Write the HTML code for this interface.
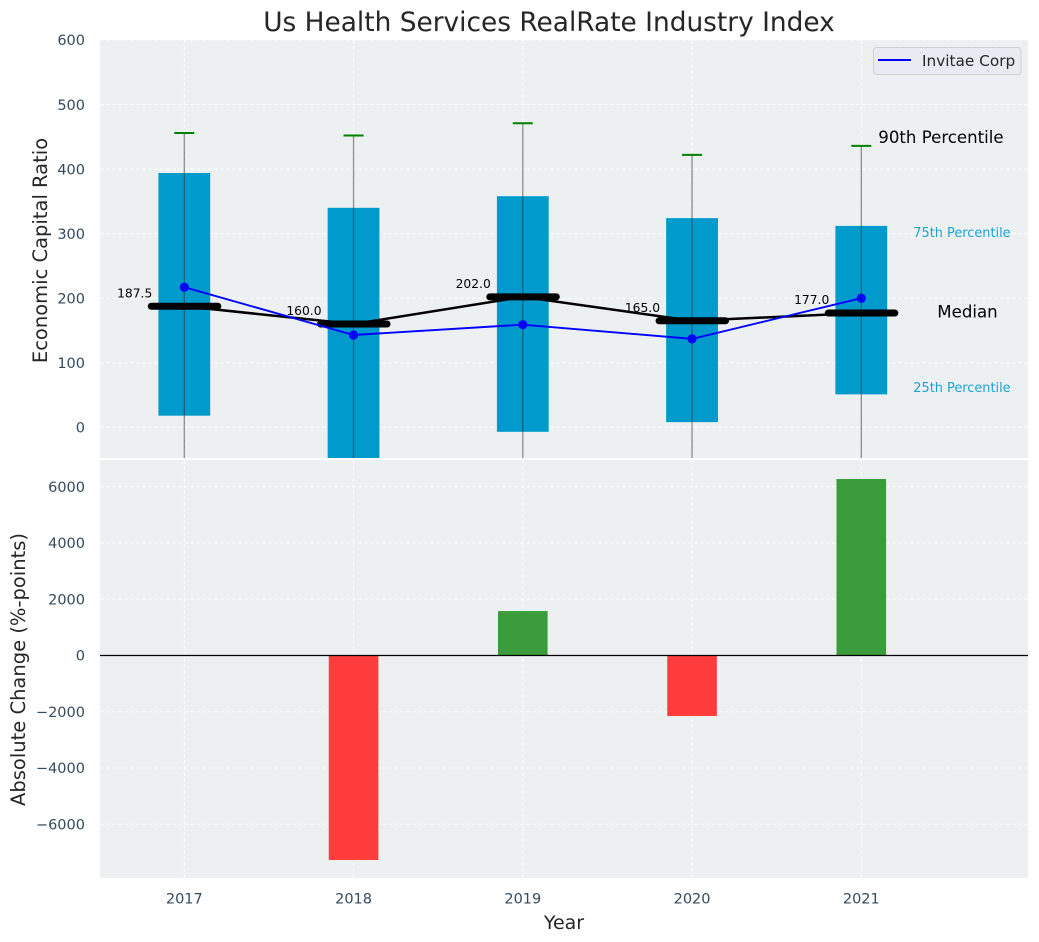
<!DOCTYPE html>
<html lang="en">
<head>
<meta charset="utf-8">
<title>Us Health Services RealRate Industry Index</title>
<style>
html,body{margin:0;padding:0;background:#fff;}
svg{display:block;font-family:"DejaVu Sans","Liberation Sans",sans-serif;}
</style>
</head>
<body>
<svg id="chart" xmlns="http://www.w3.org/2000/svg" width="1039" height="942" viewBox="0 0 1039 942">
<defs>
<clipPath id="clip-top"><rect x="100" y="40" width="928" height="418"/></clipPath>
<clipPath id="clip-bottom"><rect x="100" y="460" width="928" height="418"/></clipPath>
</defs>
<text x="549" y="31" font-size="26.4" text-anchor="middle" fill="#262626">Us Health Services RealRate Industry Index</text>
<rect x="100" y="40" width="928" height="418" fill="#ecf0f1"/>
<rect x="100" y="460" width="928" height="418" fill="#ecf0f1"/>
<g id="top-grid"></g>
<g id="bottom-grid"></g>
<g id="top-marks" clip-path="url(#clip-top)"></g>
<g id="bottom-marks" clip-path="url(#clip-bottom)"></g>
<g id="top-notes"></g>
<g id="ticks"></g>
<text transform="translate(47 250.5) rotate(-90)" font-size="19.5" text-anchor="middle" fill="#262626">Economic Capital Ratio</text>
<text transform="translate(25 669.5) rotate(-90)" font-size="19.5" text-anchor="middle" fill="#262626">Absolute Change (%-points)</text>
<text x="564" y="929" font-size="19" text-anchor="middle" fill="#262626">Year</text>
<g>
<rect x="873.5" y="47.5" width="147.5" height="27" rx="3" fill="#eaeaf2" stroke="#cfcfd4" stroke-width="1"/>
<line x1="878" y1="60" x2="911" y2="60" stroke="#0000ff" stroke-width="2"/>
<text x="922" y="66" font-size="15.3" fill="#262626">Invitae Corp</text>
</g>
</svg>
<script>
const years = [2017, 2018, 2019, 2020, 2021];
const p90 = [456, 452, 471, 422, 436];
const p75 = [394, 340, 358, 324, 312];
const p50 = [187.5, 160, 202, 165, 177];
const p25 = [18, -60, -7, 8, 51];
const p10 = [-150, -150, -150, -150, -150];
const company = [217, 143, 159, 137, 200];
const absChange = [0, -7270, 1580, -2150, 6275];
const topTicks = [0, 100, 200, 300, 400, 500, 600];
const bottomTicks = [-6000, -4000, -2000, 0, 2000, 4000, 6000];

const NS = 'http://www.w3.org/2000/svg';
const xScale = v => 184.3 + (v - 2017) * 169.25;
const yTop = v => 427.3 - v * 0.6455;
const yBottom = v => 655.5 - v * 0.028125;

function make(parent, tag, attrs, text) {
  const el = document.createElementNS(NS, tag);
  for (const k in attrs) el.setAttribute(k, attrs[k]);
  if (text !== undefined) el.textContent = text;
  document.getElementById(parent).appendChild(el);
  return el;
}
const gridStyle = {stroke: '#ffffff', 'stroke-width': 1, 'stroke-dasharray': '4 2', 'stroke-opacity': 0.75};

years.forEach(yr => {
  let el = make('top-grid', 'line', Object.assign({x1: xScale(yr), x2: xScale(yr), y1: 40, y2: 458}, gridStyle));
  
  
  el = make('bottom-grid', 'line', Object.assign({x1: xScale(yr), x2: xScale(yr), y1: 460, y2: 878}, gridStyle));
  
  
  el = make('ticks', 'text', {x: xScale(yr), y: 903.5, 'font-size': 14.5, 'text-anchor': 'middle', fill: '#34495e'}, String(yr));
  
  
});
topTicks.forEach(t => {
  let el = make('top-grid', 'line', Object.assign({x1: 100, x2: 1028, y1: yTop(t), y2: yTop(t)}, gridStyle));
  
  
  el = make('ticks', 'text', {x: 85, y: yTop(t) + 5.2, 'font-size': 14.5, 'text-anchor': 'end', fill: '#34495e'}, String(t));
  
  
});
bottomTicks.forEach(t => {
  let el = make('bottom-grid', 'line', Object.assign({x1: 100, x2: 1028, y1: yBottom(t), y2: yBottom(t)}, gridStyle));
  
  
  el = make('ticks', 'text', {x: 85, y: yBottom(t) + 5.2, 'font-size': 14.5, 'text-anchor': 'end', fill: '#34495e'}, String(t).replace('-', '\u2212'));
  
  
});

const boxHalf = 0.153 * 169.25;
years.forEach((yr, i) => {
  const el = make('top-marks', 'rect', {x: xScale(yr) - boxHalf, width: boxHalf * 2, y: yTop(p75[i]), height: yTop(p25[i]) - yTop(p75[i]), fill: '#009acd'});
  
  
});
years.forEach((yr, i) => {
  let el = make('top-marks', 'line', {x1: xScale(yr), x2: xScale(yr), y1: yTop(p90[i]), y2: yTop(p10[i]), stroke: '#30363a', 'stroke-opacity': 0.55, 'stroke-width': 1.3});
  
  
  el = make('top-marks', 'line', {x1: xScale(yr) - 10, x2: xScale(yr) + 10, y1: yTop(p90[i]), y2: yTop(p90[i]), stroke: '#008000', 'stroke-width': 2});
  
  
});

const medianLine = make('top-marks', 'polyline', {points: years.map((yr, i) => xScale(yr) + ',' + yTop(p50[i])).join(' '), fill: 'none', stroke: '#000', 'stroke-width': 2.5});


years.forEach((yr, i) => {
  const el = make('top-marks', 'line', {x1: xScale(yr) - 33, x2: xScale(yr) + 33.5, y1: yTop(p50[i]), y2: yTop(p50[i]), stroke: '#000', 'stroke-width': 7, 'stroke-linecap': 'round'});
  
  
});
const companyLine = make('top-marks', 'polyline', {points: years.map((yr, i) => xScale(yr) + ',' + yTop(company[i])).join(' '), fill: 'none', stroke: '#0000ff', 'stroke-width': 1.9});


years.forEach((yr, i) => {
  let el = make('top-marks', 'circle', {cx: xScale(yr), cy: yTop(company[i]), r: 4.6, fill: '#0000ff'});
  
  
  el = make('top-notes', 'text', {x: xScale(yr) - 32, y: yTop(p50[i]) - 9, 'font-size': 12.3, 'text-anchor': 'end', fill: '#000'}, p50[i].toFixed(1));
  
  
});

const last = years.length - 1;
const noteX = xScale(years[last]);
let note = make('top-notes', 'text', {x: noteX + 17, y: yTop(p90[last]) - 3, 'font-size': 16.6, fill: '#000'}, '90th Percentile');


note = make('top-notes', 'text', {x: noteX + 52, y: yTop(p75[last]) + 11, 'font-size': 12.9, fill: '#1ba3d1'}, '75th Percentile');


note = make('top-notes', 'text', {x: noteX + 76, y: yTop(p50[last]) + 4.5, 'font-size': 16.6, fill: '#000'}, 'Median');


note = make('top-notes', 'text', {x: noteX + 52, y: yTop(p25[last]) - 2.5, 'font-size': 12.9, fill: '#1ba3d1'}, '25th Percentile');



years.forEach((yr, i) => {
  if (absChange[i] === 0) return;
  const top = Math.min(yBottom(absChange[i]), yBottom(0));
  const h = Math.abs(yBottom(absChange[i]) - yBottom(0));
  const el = make('bottom-marks', 'rect', {x: xScale(yr) - 24.8, width: 49.6, y: top, height: h, fill: absChange[i] > 0 ? '#3b9c3c' : '#ff3c3c'});
  
  
});
const zeroLine = make('bottom-marks', 'line', {x1: 100, x2: 1028, y1: yBottom(0), y2: yBottom(0), stroke: '#000', 'stroke-width': 1.2});


</script>
</body>
</html>
